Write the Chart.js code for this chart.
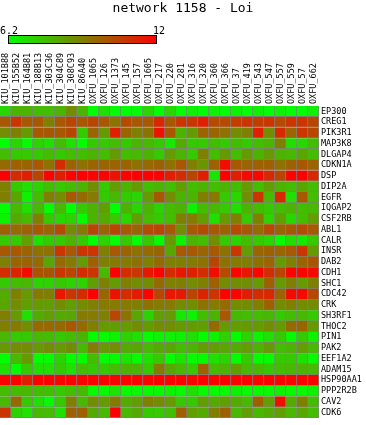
<!DOCTYPE html>
<html>
<head>
<meta charset="utf-8">
<title>network 1158 - Loi</title>
<script src="https://cdn.jsdelivr.net/npm/chart.js@4.4.0/dist/chart.umd.min.js"></script>
<style>
  html, body { margin: 0; padding: 0; background: #fff; }
  #wrap { width: 366px; height: 425px; position: relative; }
</style>
</head>
<body>
<div id="wrap"><canvas id="heatmap"></canvas></div>
<script>
// colour scale limits (shown on the colour bar)
const scaleMin = 6.2;
const scaleMax = 12;

const samples = ['KIU_101B88', 'KIU_155B52', 'KIU_164B81', 'KIU_188B13', 'KIU_303C36', 'KIU_304C89',
    'KIU_308C93', 'KIU_86A40', 'OXFU_1065', 'OXFU_126', 'OXFU_1373', 'OXFU_145', 'OXFU_157',
    'OXFU_1605', 'OXFU_217', 'OXFU_220', 'OXFU_281', 'OXFU_316', 'OXFU_320', 'OXFU_360',
    'OXFU_366', 'OXFU_37', 'OXFU_419', 'OXFU_543', 'OXFU_547', 'OXFU_557', 'OXFU_559',
    'OXFU_57', 'OXFU_662'];

const genes = ['EP300', 'CREG1', 'PIK3R1', 'MAP3K8', 'DLGAP4', 'CDKN1A', 'DSP', 'DIP2A', 'EGFR',
    'IQGAP2', 'CSF2RB', 'ABL1', 'CALR', 'INSR', 'DAB2', 'CDH1', 'SHC1', 'CDC42', 'CRK', 'SH3RF1',
    'THOC2', 'PIN1', 'PAK2', 'EEF1A2', 'ADAM15', 'HSP90AA1', 'PPP2R2B', 'CAV2', 'CDK6'];

// expression per gene, in sample order
const ep300 = [7.1, 7.9, 7.9, 7.7, 7.7, 7.9, 8.8, 7.9, 6.2, 6.9, 6.2, 6.2, 6.2, 7.1, 6.2, 7.1, 6.2, 6.5, 6.2, 6.5, 6.2, 6.5, 6.2, 6.5, 6.2, 6.5, 6.2, 6.2, 6.5];
const creg1 = [10.0, 10.8, 10.0, 10.0, 9.1, 10.0, 10.4, 10.0, 10.4, 10.0, 9.4, 10.3, 10.0, 10.0, 11.1, 10.0, 10.8, 10.8, 11.3, 10.3, 10.3, 10.6, 10.8, 10.6, 10.8, 10.3, 10.8, 10.8, 10.4];
const pik3r1 = [8.8, 9.1, 8.5, 10.0, 10.0, 10.0, 10.4, 7.4, 9.7, 8.5, 11.3, 9.7, 9.1, 9.4, 11.6, 10.0, 7.9, 8.5, 9.7, 9.7, 9.4, 8.8, 9.1, 11.3, 8.8, 11.1, 9.7, 10.8, 10.4];
const map3k8 = [6.2, 7.1, 6.3, 7.2, 6.9, 7.7, 6.9, 6.3, 7.4, 7.4, 7.7, 7.4, 7.9, 7.8, 7.4, 6.7, 8.1, 7.4, 7.4, 7.7, 7.4, 7.7, 7.4, 7.7, 7.9, 9.1, 6.9, 7.1, 7.7];
const dlgap4 = [7.7, 7.4, 7.4, 7.4, 7.7, 7.4, 7.7, 7.7, 7.9, 7.7, 8.5, 7.7, 7.8, 7.9, 7.4, 8.5, 7.9, 7.4, 9.1, 7.7, 8.5, 7.7, 8.5, 7.9, 8.5, 7.9, 7.8, 8.2, 7.7];
const cdkn1a = [9.6, 9.8, 9.7, 10.0, 9.4, 11.0, 9.7, 9.4, 9.7, 9.7, 9.7, 9.7, 9.4, 9.6, 9.8, 9.4, 10.0, 9.1, 8.6, 9.8, 11.7, 10.0, 9.7, 9.8, 9.8, 9.4, 9.8, 10.0, 9.7];
const dsp = [12.0, 11.0, 11.3, 10.4, 11.9, 11.3, 11.9, 12.0, 11.9, 11.9, 11.6, 11.9, 12.0, 11.9, 11.9, 11.3, 11.0, 10.4, 11.3, 6.8, 12.0, 11.3, 11.8, 11.8, 11.1, 10.4, 11.9, 11.9, 11.1];
const dip2a = [9.1, 7.4, 6.9, 7.2, 7.7, 7.4, 7.7, 7.9, 8.8, 7.4, 8.4, 7.9, 8.5, 7.7, 7.9, 7.7, 8.4, 7.7, 7.9, 7.7, 7.9, 7.7, 8.5, 7.7, 8.4, 7.9, 7.7, 8.2, 7.7];
const egfr = [9.1, 8.2, 6.5, 7.7, 9.1, 8.8, 10.0, 9.6, 9.2, 7.4, 7.8, 7.4, 7.1, 8.5, 10.0, 8.8, 7.9, 7.9, 9.1, 9.2, 7.4, 7.1, 8.8, 10.8, 7.8, 11.1, 6.9, 10.0, 7.7];
const iqgap2 = [6.2, 7.8, 6.9, 7.8, 6.3, 7.8, 6.2, 7.4, 7.9, 8.4, 6.2, 7.9, 7.1, 7.9, 7.2, 7.7, 7.9, 6.5, 7.7, 7.8, 7.4, 6.9, 7.9, 7.7, 7.4, 7.7, 7.9, 7.7, 7.8];
const csf2rb = [6.5, 8.1, 7.8, 9.1, 7.4, 7.1, 7.2, 6.3, 7.9, 8.1, 7.4, 7.1, 8.4, 7.7, 7.4, 7.7, 9.1, 9.2, 8.4, 6.9, 8.5, 9.1, 7.4, 9.1, 7.2, 8.4, 7.1, 7.7, 8.4];
const abl1 = [9.8, 9.6, 9.8, 10.0, 9.7, 10.3, 8.8, 9.2, 10.4, 9.7, 10.4, 10.0, 9.7, 10.3, 10.4, 10.0, 8.8, 10.0, 10.3, 10.0, 9.8, 10.3, 10.0, 9.6, 10.3, 9.7, 10.0, 10.3, 10.0];
const calr = [7.4, 7.4, 8.4, 6.9, 7.4, 7.4, 7.9, 7.4, 6.2, 7.2, 6.2, 7.4, 6.3, 7.4, 6.3, 8.5, 6.5, 7.9, 7.7, 8.8, 7.4, 7.2, 7.7, 7.4, 7.1, 6.3, 6.9, 6.7, 7.4];
const insr = [10.0, 10.0, 9.7, 9.4, 9.4, 10.8, 10.0, 10.8, 10.8, 9.1, 10.0, 9.7, 9.4, 9.6, 9.7, 8.2, 10.0, 10.0, 9.7, 10.0, 9.4, 10.8, 8.4, 9.7, 9.8, 9.7, 10.0, 10.8, 8.5];
const dab2 = [9.1, 9.7, 9.7, 9.6, 8.2, 9.6, 9.2, 8.5, 9.8, 9.1, 9.2, 9.2, 9.4, 9.1, 9.6, 9.1, 9.1, 9.2, 9.4, 10.4, 9.4, 9.2, 9.1, 9.4, 9.7, 8.5, 9.1, 9.7, 10.1];
const cdh1 = [11.0, 11.2, 11.8, 10.1, 10.1, 10.8, 10.4, 11.0, 10.8, 7.8, 12.0, 11.0, 10.8, 11.5, 11.9, 11.0, 11.5, 11.3, 11.0, 11.7, 10.3, 11.9, 11.5, 11.9, 11.0, 10.4, 11.9, 11.9, 11.8];
const shc1 = [7.4, 7.7, 7.8, 7.2, 7.2, 7.4, 7.2, 7.2, 8.4, 9.1, 8.5, 9.1, 8.8, 8.8, 9.6, 9.1, 9.1, 8.8, 9.1, 9.8, 8.8, 8.8, 8.8, 8.5, 9.8, 8.5, 9.1, 8.5, 9.1];
const cdc42 = [8.1, 9.1, 8.5, 9.2, 9.1, 11.5, 10.8, 11.0, 12.0, 9.7, 11.6, 11.0, 11.4, 11.9, 10.4, 11.5, 11.4, 10.4, 11.2, 10.8, 11.9, 11.9, 11.3, 11.0, 11.1, 9.7, 11.8, 11.8, 10.4];
const crk = [8.2, 8.8, 8.4, 8.5, 8.4, 8.8, 8.4, 8.8, 9.1, 9.2, 9.2, 9.2, 9.1, 9.4, 9.2, 9.2, 8.8, 8.8, 9.4, 9.2, 9.6, 8.8, 8.8, 9.1, 9.8, 8.8, 9.1, 8.8, 8.8];
const sh3rf1 = [9.1, 8.5, 6.9, 8.1, 8.4, 8.1, 8.2, 9.2, 9.2, 9.1, 10.4, 9.4, 8.2, 7.2, 8.4, 8.5, 6.7, 6.5, 7.7, 7.9, 10.0, 7.8, 7.7, 7.7, 7.8, 7.4, 7.7, 7.8, 7.4];
const thoc2 = [9.1, 9.2, 8.8, 9.6, 9.6, 9.6, 10.0, 9.6, 9.1, 8.5, 8.4, 8.5, 8.8, 8.5, 8.8, 8.8, 8.5, 8.5, 8.4, 9.6, 8.5, 8.4, 8.5, 8.5, 8.8, 8.5, 9.6, 9.7, 8.5];
const pin1 = [7.8, 7.4, 7.4, 7.8, 7.7, 7.4, 7.7, 7.9, 6.3, 6.3, 6.5, 7.2, 6.9, 6.3, 6.5, 6.5, 6.5, 6.9, 6.3, 6.5, 7.2, 6.3, 7.2, 6.5, 6.9, 7.4, 6.3, 7.4, 6.5];
const pak2 = [8.5, 8.8, 8.8, 8.5, 8.8, 8.5, 8.8, 7.8, 9.2, 8.5, 8.8, 8.1, 8.2, 7.8, 8.1, 8.2, 7.7, 7.9, 8.4, 8.4, 8.2, 8.1, 8.4, 7.9, 8.5, 7.7, 7.9, 8.4, 7.8];
const eef1a2 = [6.2, 7.8, 8.5, 6.3, 6.3, 7.2, 6.3, 6.3, 7.7, 6.3, 6.3, 6.8, 6.3, 6.9, 7.4, 6.3, 6.8, 6.3, 6.3, 6.9, 7.2, 6.3, 7.4, 6.3, 6.3, 7.4, 7.4, 6.9, 6.3];
const adam15 = [6.9, 6.3, 7.4, 6.9, 6.9, 7.4, 6.9, 7.7, 7.4, 7.4, 7.7, 7.9, 7.9, 7.4, 9.2, 8.2, 7.8, 7.4, 9.8, 7.8, 7.9, 8.4, 7.8, 7.8, 7.4, 7.7, 7.8, 7.9, 7.8];
const hsp90aa1 = [12.0, 12.0, 11.3, 12.0, 12.0, 11.9, 12.0, 11.9, 12.0, 11.9, 12.0, 11.9, 12.0, 11.9, 12.0, 11.9, 12.0, 11.9, 12.0, 11.9, 12.0, 11.9, 12.0, 11.9, 12.0, 12.0, 11.9, 12.0, 11.9];
const ppp2r2b = [7.7, 7.7, 7.8, 7.7, 7.7, 7.4, 7.7, 7.8, 6.3, 6.3, 6.8, 6.3, 6.3, 6.3, 6.3, 6.5, 6.3, 6.9, 6.3, 6.3, 6.3, 6.5, 6.3, 6.3, 6.3, 6.5, 6.3, 6.3, 6.5];
const cav2 = [7.8, 9.6, 7.4, 6.9, 6.3, 7.4, 9.1, 7.8, 8.8, 8.5, 9.2, 8.1, 8.4, 9.1, 8.8, 8.5, 7.4, 7.4, 8.4, 8.1, 8.4, 8.1, 7.8, 9.8, 8.4, 11.7, 8.1, 9.1, 7.7];
const cdk6 = [10.8, 7.2, 6.9, 7.8, 7.7, 6.9, 9.8, 9.8, 8.1, 7.8, 12.0, 7.8, 8.1, 7.4, 7.4, 7.7, 9.8, 8.4, 8.1, 9.1, 9.8, 7.8, 8.4, 7.8, 8.1, 8.4, 7.8, 8.2, 7.7];

const rows = [ep300, creg1, pik3r1, map3k8, dlgap4, cdkn1a, dsp, dip2a, egfr, iqgap2, csf2rb,
    abl1, calr, insr, dab2, cdh1, shc1, cdc42, crk, sh3rf1, thoc2, pin1, pak2, eef1a2, adam15,
    hsp90aa1, ppp2r2b, cav2, cdk6];

const mono = "'DejaVu Sans Mono', monospace";
const labelSize = 8.5;

// green (low) -> red (high)
function cellColor(v) {
    let t = (v - scaleMin) / (scaleMax - scaleMin);
    t = Math.max(0, Math.min(1, t));
    return `rgb(${Math.round(255 * t)}, ${Math.round(255 * (1 - t))}, 0)`;
}

// one stacked dataset per sample, each gene gets a cell of width 1
const datasets = samples.map((name, c) => ({
    label: name,
    data: genes.map(() => 1),
    backgroundColor: rows.map(r => cellColor(r[c])),
    borderColor: '#808080',
    borderWidth: { top: 0, left: 0, right: 1, bottom: 1 },
    borderSkipped: false,
    barPercentage: 1,
    categoryPercentage: 1
}));

// colour bar legend above the heatmap
const colorBar = {
    id: 'colorBar',
    afterDraw(chart) {
        const ctx = chart.ctx;
        const x0 = 8, x1 = 157, y0 = 35, h = 9;
        const grad = ctx.createLinearGradient(x0, 0, x1, 0);
        grad.addColorStop(0, cellColor(scaleMin));
        grad.addColorStop(1, cellColor(scaleMax));
        ctx.save();
        ctx.fillStyle = grad;
        ctx.fillRect(x0, y0, x1 - x0, h);
        ctx.strokeStyle = '#000';
        ctx.lineWidth = 1;
        ctx.strokeRect(x0 + 0.5, y0 + 0.5, x1 - x0 - 1, h - 1);
        ctx.fillStyle = '#000';
        ctx.font = '10px ' + mono;
        ctx.textBaseline = 'alphabetic';
        ctx.textAlign = 'left';
        ctx.fillText(String(scaleMin), 0, 34);
        ctx.textAlign = 'right';
        ctx.fillText(String(scaleMax), 165, 34);
        ctx.restore();
    }
};

new Chart(document.getElementById('heatmap'), {
    type: 'bar',
    data: { labels: genes, datasets: datasets },
    plugins: [colorBar],
    options: {
        indexAxis: 'y',
        responsive: true,
        maintainAspectRatio: false,
        animation: false,
        layout: { padding: 0 },
        scales: {
            x: {
                type: 'linear',
                stacked: true,
                min: 0,
                max: samples.length,
                display: false
            },
            x2: {
                type: 'category',
                labels: samples,
                position: 'top',
                offset: true,
                grid: { display: false, drawTicks: false },
                border: { display: false },
                ticks: {
                    autoSkip: false,
                    minRotation: 90,
                    maxRotation: 90,
                    padding: 2,
                    // rotated labels are pushed left by one line height, undo that
                    labelOffset: labelSize,
                    color: '#000',
                    font: { family: mono, size: labelSize, lineHeight: 1 }
                },
                afterFit(scale) {
                    scale.height = 58;
                    scale.paddingLeft = 0;
                    scale.paddingRight = 0;
                }
            },
            y: {
                stacked: true,
                position: 'right',
                grid: { display: false, drawTicks: false },
                border: { display: false },
                ticks: {
                    autoSkip: false,
                    padding: 2,
                    color: '#000',
                    font: { family: mono, size: labelSize }
                },
                afterFit(scale) { scale.width = 47; }
            }
        },
        plugins: {
            legend: { display: false },
            tooltip: { enabled: false },
            title: {
                display: true,
                text: 'network 1158 - Loi',
                color: '#000',
                font: { family: mono, size: 13, weight: 'normal', lineHeight: 1 },
                padding: { top: 2, bottom: 33 }
            }
        }
    }
});
</script>
</body>
</html>
